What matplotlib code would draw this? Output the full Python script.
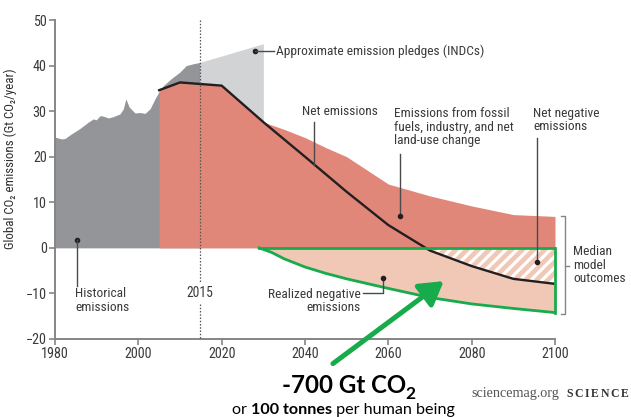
import numpy as np
import matplotlib
matplotlib.use("Agg")
import matplotlib.pyplot as plt
from matplotlib import font_manager as fm

# ---------------- data ----------------
hist_years = [1980, 1981.6, 1982.4, 1983.6, 1986, 1988, 1989.2, 1989.9, 1990.8, 1991.6,
              1992.8, 1994, 1995.6, 1996.4, 1997, 1997.8, 1999.2, 2000.4, 2001.6,
              2002.8, 2004, 2005, 2006, 2008, 2010, 2011.5, 2013.2, 2014.8]
hist_vals = [24.3, 23.9, 24.0, 24.8, 26.2, 27.6, 28.3, 28.1, 29.0, 28.9,
             28.5, 28.8, 29.4, 30.5, 32.7, 30.9, 29.6, 29.7, 29.5,
             30.5, 32.7, 34.3, 35.6, 37.2, 38.6, 40.0, 40.4, 40.7]

pledge_years = [2014.8, 2030]
pledge_vals = [40.7, 44.8]

fossil_years = [2005, 2010, 2020, 2030, 2035, 2040, 2045, 2050, 2055, 2060,
                2065, 2070, 2080, 2090, 2100]
fossil_vals = [34.6, 36.3, 35.6, 27.6, 26.0, 24.2, 22.0, 20.0, 17.0, 14.0,
               12.7, 11.4, 9.2, 7.3, 6.9]

net_years = [2005, 2010, 2020, 2030, 2040, 2050, 2060, 2070, 2080, 2090, 2100]
net_vals = [34.6, 36.3, 35.6, 27.6, 20.0, 12.3, 5.0, -0.6, -4.0, -6.8, -7.9]

neg_years = [2029, 2032, 2035, 2040, 2045, 2050, 2060, 2070, 2080, 2090, 2100]
neg_vals = [0, -1.0, -2.4, -4.2, -5.6, -6.8, -8.9, -10.9, -12.3, -13.3, -14.2]

x_ticks = [1980, 2000, 2020, 2040, 2060, 2080, 2100]
y_ticks = [-20, -10, 0, 10, 20, 30, 40, 50]

# ---------------- font choice: a condensed sans if one is installed ----------------
def find_condensed():
    prefs = ['Liberation Sans Narrow', 'Roboto Condensed', 'Open Sans Condensed',
             'Noto Sans', 'DejaVu Sans', 'Open Sans', 'Roboto', 'Inter', 'Lato']
    good = []
    for f in fm.fontManager.ttflist:
        st = str(f.stretch).lower()
        cond = ('narrow' in f.name.lower() or 'condensed' in f.name.lower()
                or 'condensed' in st or 'narrow' in f.fname.lower()
                or 'condensed' in f.fname.lower())
        if not cond or 'extra' in st or 'ultra' in st or 'extracondensed' in f.fname.lower():
            continue
        if f.style != 'normal':
            continue
        w = f.weight if isinstance(f.weight, int) else {'normal': 400, 'regular': 400}.get(str(f.weight), 0)
        if w != 400:
            continue
        rank = len(prefs)
        for i, p in enumerate(prefs):
            if f.name.lower().startswith(p.lower()):
                rank = i
                break
        semi = 0 if 'semi' not in st and 'semi' not in f.fname.lower() else 1
        good.append((rank, semi, f.fname))
    if good:
        good.sort()
        return good[0][2]
    return None

COND = find_condensed()

def fp(size):
    if COND:
        p = fm.FontProperties(fname=COND)
        p.set_size(size)
        return dict(fontproperties=p)
    return dict(family=['Liberation Sans', 'DejaVu Sans'], fontsize=size * 0.9)

plt.rcParams['hatch.linewidth'] = 2.3

GRAY = '#939598'
LGRAY = '#d1d3d4'
RED = '#e0877a'
PINK = '#f1c7b6'
GREEN = '#18ab4b'
TXT = '#3a3a3c'
AX = '#858585'

W, H = 631, 417
fig = plt.figure(figsize=(W / 100, H / 100), dpi=100)
ax = fig.add_axes([55 / W, 1 - 339 / H, 500 / W, 319 / H])
ax.set_xlim(1980, 2100)
ax.set_ylim(-20, 50)

# fills
ax.fill_between(hist_years, 0, hist_vals, color=GRAY, lw=0, zorder=1)
ax.fill_between(pledge_years, 0, pledge_vals, color=LGRAY, lw=0, zorder=1)
ax.fill_between(fossil_years, 0, fossil_vals, color=RED, lw=0, zorder=2)
ax.fill_between(neg_years, neg_vals, 0, color=PINK, lw=0, zorder=2)
nv = np.array(net_vals)
ax.fill_between(net_years, nv, 0, where=nv <= 0, interpolate=True,
                facecolor='none', edgecolor='white', hatch='///', lw=0, zorder=3)

# net emissions line
ax.plot(net_years, net_vals, color='#231f20', lw=1.7, zorder=5)

# green outline
ax.plot(neg_years, neg_vals, color=GREEN, lw=2.0, zorder=6)
ax.plot([neg_years[0], 2100, 2100], [0, 0, neg_vals[-1]], color=GREEN, lw=2.0,
        zorder=6, clip_on=False, solid_joinstyle='miter')

# 2015 dotted line
for seg in ([50, -7.8], [-12.3, -20]):
    ax.plot([2014.8, 2014.8], seg, color='#555555', lw=0.9, ls=(0, (1.2, 1.4)), zorder=7,
            clip_on=False)
ax.text(2014.8, -10, '2015', ha='center', va='center', color=TXT, **fp(9.8))

# axes styling
for s in ['top', 'right']:
    ax.spines[s].set_visible(False)
for s in ['left', 'bottom']:
    ax.spines[s].set_color(AX)
    ax.spines[s].set_linewidth(1.4)
ax.set_xticks(x_ticks)
ax.set_yticks(y_ticks)
ax.tick_params(axis='both', colors=AX, labelcolor=TXT, length=4, width=1.2,
               direction='out', pad=2)
for lab in ax.get_xticklabels() + ax.get_yticklabels():
    lab.set(**fp(10.2))
ax.set_ylabel('Global CO\u2082 emissions (Gt CO\u2082/year)', color='#2e2e30', **fp(9.3))
ax.yaxis.set_label_coords(-0.076, 0.564)

# annotations
LC = '#4a4a4c'
def dot(x, y):
    ax.plot([x], [y], 'o', ms=3, color='#231f20', zorder=9, clip_on=False)

def label(x, y, s, ha='left'):
    ax.text(x, y, s, color=TXT, ha=ha, va='center', linespacing=1.05, **fp(9.6))

# pledges
dot(2028.1, 43.1)
ax.plot([2028.1, 2032.6], [43.1, 43.1], color=LC, lw=1, zorder=9)
label(2033.0, 43.1, 'Approximate emission pledges (INDCs)')

# Net emissions
label(2039.3, 29.9, 'Net emissions')
ax.plot([2042.1, 2042.1], [27.6, 18.1], color=LC, lw=1, zorder=9)

# Fossil
label(2061.4, 26.5, 'Emissions from fossil\nfuels, industry, and net\nland-use change')
ax.plot([2062.9, 2062.9], [20.6, 7.1], color=LC, lw=1, zorder=9)
dot(2062.9, 7.1)

# Net negative
label(2094.7, 28.1, 'Net negative\nemissions')
ax.plot([2095.7, 2095.7], [24.0, -3.2], color=LC, lw=1, zorder=9)
dot(2095.7, -3.2)

# Median model outcomes bracket
bx = 2102.4
ax.plot([bx - 1.0, bx, bx, bx - 1.0], [6.9, 6.9, -14.6, -14.6], color=AX, lw=1,
        clip_on=False)
ax.plot([bx, bx + 1.0], [-3.9, -3.9], color=AX, lw=1, clip_on=False)
label(2104.3, -3.8, 'Median\nmodel\noutcomes')

# Historical
dot(1985.3, 1.8)
ax.plot([1985.3, 1985.3], [1.8, -8.3], color=LC, lw=1, zorder=9)
label(1984.8, -11.6, 'Historical\nemissions')

# Realized negative
label(2053.3, -11.7, 'Realized negative\nemissions', ha='right')
ax.plot([2054.0, 2058.8, 2058.8], [-9.9, -9.9, -6.6], color=LC, lw=1, zorder=9)
dot(2058.8, -6.6)

# green arrow
ax.annotate('', xy=(2073.3, -7.3), xytext=(2046.7, -25.4),
            arrowprops=dict(arrowstyle='-|>,head_length=1.0,head_width=0.6',
                            lw=3.6, color=GREEN, shrinkA=0, shrinkB=0,
                            mutation_scale=14),
            annotation_clip=False, zorder=10)

# ---------------- bottom texts ----------------
fig.canvas.draw()
r = fig.canvas.get_renderer()

def chain(parts, x0, y0):
    x = x0
    for s, kw, dy, gap in parts:
        t = fig.text(x / W, (y0 + dy) / H, s, ha='left', va='baseline', **kw)
        bb = t.get_window_extent(r)
        x = bb.x1 + gap
    return x

CAL = ['Lato', 'DejaVu Sans']
chain([('-700 Gt CO', dict(fontsize=17.3, fontweight='bold', family=CAL, color='black'), 0, 0),
       ('2', dict(fontsize=12.5, fontweight='bold', family=CAL, color='black'), -6, 0)],
      281.7, H - 392.7)
chain([('or ', dict(fontsize=11.6, family=CAL, color='black'), 0, 0),
       ('100 tonnes', dict(fontsize=11.6, fontweight='bold', family=CAL, color='black'), 0, 0),
       (' per human being', dict(fontsize=11.6, family=CAL, color='black'), 0, 0)],
      231.7, H - 414)
SER = ['Liberation Serif', 'DejaVu Serif']
fig.text(471.7 / W, (H - 396.7) / H, 'sciencemag.org', family=SER, fontsize=10.2,
         color='#555555', ha='left', va='baseline')
chain([(ch, dict(family=SER, fontsize=8.5, fontweight='bold', color='#333333'), 0, 1.6)
       for ch in 'SCIENCE'], 566.7, H - 396.7)

fig.savefig('out.png', dpi=100)
